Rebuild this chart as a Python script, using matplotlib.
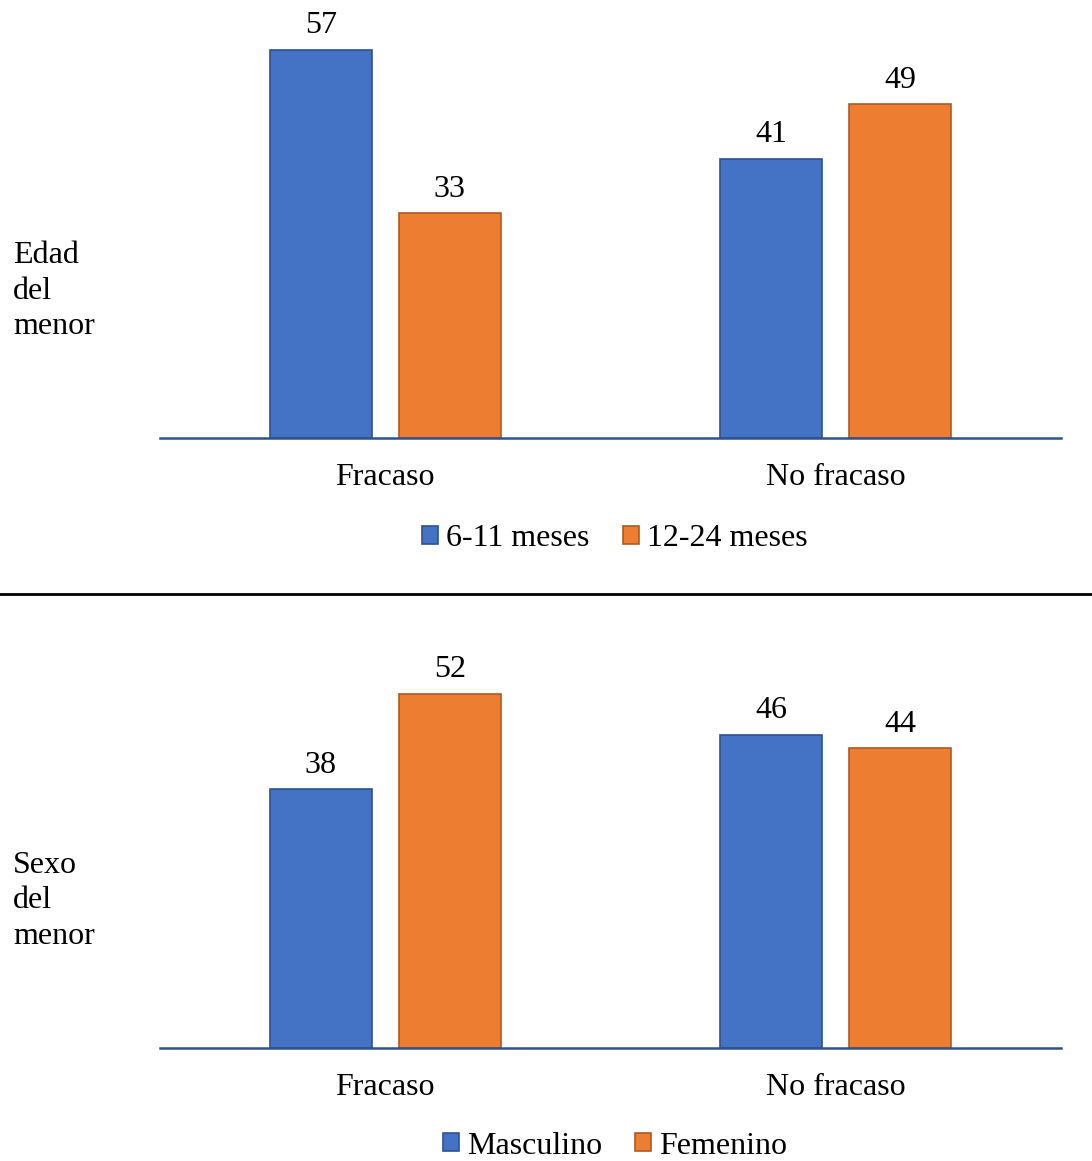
import matplotlib.pyplot as plt
from matplotlib.patches import Patch

plt.rcParams['font.family'] = ['Liberation Serif', 'DejaVu Serif']

categorias = ['Fracaso', 'No fracaso']

edad_series = ['6-11 meses', '12-24 meses']
edad_valores = [[57, 41], [33, 49]]

sexo_series = ['Masculino', 'Femenino']
sexo_valores = [[38, 46], [52, 44]]

colores = ['#4472C4', '#ED7D31']
bordes = ['#2F528F', '#AE5A21']

W, H = 1092, 1161
fig = plt.figure(figsize=(W / 100, H / 100), dpi=100)


def panel(y_base, titulo, series, valores, y_leyenda):
    # ejes: base en y_base (px desde arriba), 60 unidades = 408 px
    alto = 60 * 6.807
    ax = fig.add_axes([160 / W, 1 - y_base / H, 901 / W, alto / H])
    x = range(len(categorias))
    ancho = 0.226
    desp = [-0.143, 0.143]
    for i, nombre in enumerate(series):
        pos = [xi + desp[i] for xi in x]
        barras = ax.bar(pos, valores[i], ancho, color=colores[i],
                        edgecolor=bordes[i], linewidth=1.2, label=nombre)
        ax.bar_label(barras, padding=7, fontsize=23, clip_on=False)
    ax.set_xlim(-0.5, 1.5)
    ax.set_ylim(0, 60)
    for s in ['top', 'right', 'left']:
        ax.spines[s].set_visible(False)
    ax.spines['bottom'].set_color('#2F528F')
    ax.spines['bottom'].set_linewidth(1.8)
    ax.set_yticks([])
    ax.set_xticks(list(x))
    ax.set_xticklabels(categorias, fontsize=23)
    ax.tick_params(axis='x', length=0, pad=18)

    fig.text(13 / W, 1 - (y_base - 147) / H, titulo, fontsize=23,
             ha='left', va='center', linespacing=1.3)

    handles = [Patch(facecolor=colores[i], edgecolor=bordes[i], linewidth=1.2)
               for i in range(2)]
    fig.legend(handles, series, loc='center', ncol=2,
               bbox_to_anchor=(615 / W, 1 - y_leyenda / H),
               frameon=False, fontsize=23, handlelength=0.5,
               handleheight=0.5, handletextpad=0.25, columnspacing=1.05)


panel(438, 'Edad\ndel\nmenor', edad_series, edad_valores, 539)
panel(1048, 'Sexo\ndel\nmenor', sexo_series, sexo_valores, 1146)

# línea separadora entre los dos paneles
fig.add_artist(plt.Line2D([0, 1], [1 - 594 / H, 1 - 594 / H],
                          color='black', linewidth=2))

fig.savefig('out.png', dpi=100)
